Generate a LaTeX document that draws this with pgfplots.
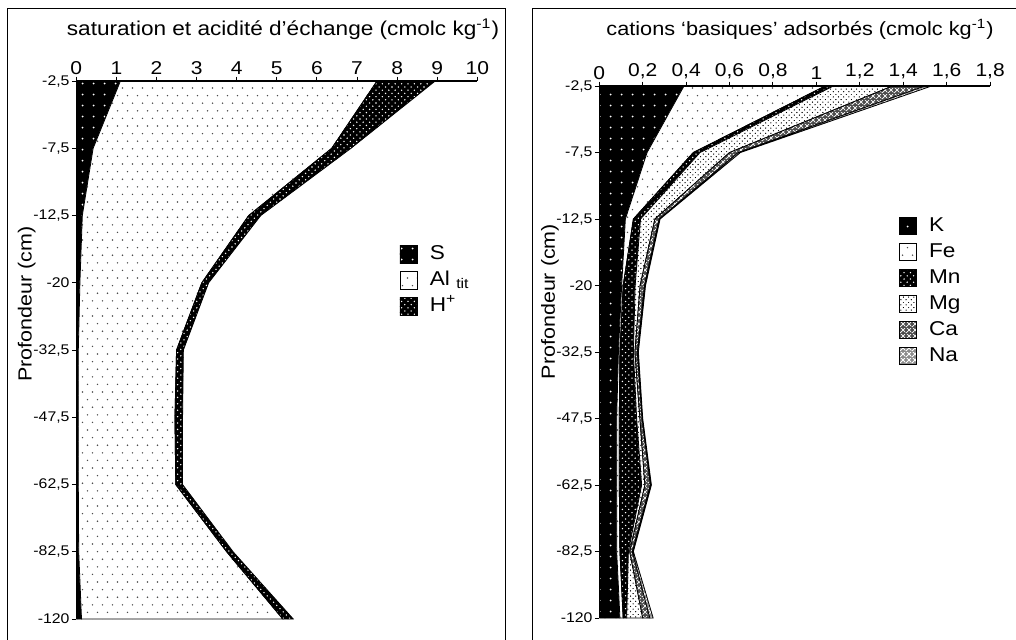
\documentclass[border=0pt]{standalone}
\usepackage{fontspec}
\setmainfont{Liberation Sans}[FakeStretch=1.13]
\usepackage{pgfplots}
\pgfplotsset{compat=1.18}
\usetikzlibrary{patterns}

\pgfdeclarepatterninherentlycolored{KDots}
{\pgfqpoint{-0.3pt}{-0.3pt}}{\pgfqpoint{5.8pt}{5.8pt}}{\pgfqpoint{5.5pt}{5.5pt}}
{\pgfsetfillcolor{black}
 \pgfpathrectangle{\pgfqpoint{-0.3pt}{-0.3pt}}{\pgfqpoint{6.1pt}{6.1pt}}\pgfusepath{fill}
 \pgfsetfillcolor{white}
 \pgfpathcircle{\pgfqpoint{2.75pt}{2.75pt}}{0.5pt}\pgfusepath{fill}}

\pgfdeclarepatterninherentlycolored{AlDots}
{\pgfqpoint{-0.3pt}{-0.3pt}}{\pgfqpoint{5.3pt}{7.9pt}}{\pgfqpoint{5pt}{7.6pt}}
{\pgfsetfillcolor{white}
 \pgfpathrectangle{\pgfqpoint{-0.3pt}{-0.3pt}}{\pgfqpoint{5.6pt}{8.2pt}}\pgfusepath{fill}
 \pgfsetfillcolor{black!70}
 \pgfpathcircle{\pgfqpoint{1.25pt}{1.9pt}}{0.4pt}\pgfusepath{fill}
 \pgfpathcircle{\pgfqpoint{3.75pt}{5.7pt}}{0.4pt}\pgfusepath{fill}}

\pgfdeclarepatterninherentlycolored{HDots}
{\pgfqpoint{-0.3pt}{-0.3pt}}{\pgfqpoint{3.5pt}{3.5pt}}{\pgfqpoint{3.2pt}{3.2pt}}
{\pgfsetfillcolor{black}
 \pgfpathrectangle{\pgfqpoint{-0.3pt}{-0.3pt}}{\pgfqpoint{3.8pt}{3.8pt}}\pgfusepath{fill}
 \pgfsetfillcolor{white}
 \pgfpathcircle{\pgfqpoint{0.8pt}{0.8pt}}{0.38pt}\pgfusepath{fill}
 \pgfpathcircle{\pgfqpoint{2.4pt}{2.4pt}}{0.38pt}\pgfusepath{fill}}

\pgfdeclarepatterninherentlycolored{MgDots}
{\pgfqpoint{-0.3pt}{-0.3pt}}{\pgfqpoint{2.9pt}{2.9pt}}{\pgfqpoint{2.6pt}{2.6pt}}
{\pgfsetfillcolor{white}
 \pgfpathrectangle{\pgfqpoint{-0.3pt}{-0.3pt}}{\pgfqpoint{3.2pt}{3.2pt}}\pgfusepath{fill}
 \pgfsetfillcolor{black}
 \pgfpathcircle{\pgfqpoint{0.65pt}{0.65pt}}{0.34pt}\pgfusepath{fill}
 \pgfpathcircle{\pgfqpoint{1.95pt}{1.95pt}}{0.34pt}\pgfusepath{fill}}

\pgfdeclarepatterninherentlycolored{CaHatch}
{\pgfqpoint{-0.3pt}{-0.3pt}}{\pgfqpoint{3.3pt}{3.3pt}}{\pgfqpoint{3pt}{3pt}}
{\pgfsetfillcolor{black!70}
 \pgfpathrectangle{\pgfqpoint{-0.3pt}{-0.3pt}}{\pgfqpoint{3.6pt}{3.6pt}}\pgfusepath{fill}
 \pgfsetstrokecolor{white}\pgfsetlinewidth{0.35pt}
 \pgfpathmoveto{\pgfqpoint{0pt}{0pt}}\pgfpathlineto{\pgfqpoint{3pt}{3pt}}
 \pgfpathmoveto{\pgfqpoint{0pt}{3pt}}\pgfpathlineto{\pgfqpoint{3pt}{0pt}}
 \pgfusepath{stroke}}

\pgfdeclarepatterninherentlycolored{NaHatch}
{\pgfqpoint{-0.3pt}{-0.3pt}}{\pgfqpoint{3.3pt}{3.3pt}}{\pgfqpoint{3pt}{3pt}}
{\pgfsetfillcolor{black!45}
 \pgfpathrectangle{\pgfqpoint{-0.3pt}{-0.3pt}}{\pgfqpoint{3.6pt}{3.6pt}}\pgfusepath{fill}
 \pgfsetstrokecolor{white}\pgfsetlinewidth{0.45pt}
 \pgfpathmoveto{\pgfqpoint{0pt}{0pt}}\pgfpathlineto{\pgfqpoint{3pt}{3pt}}
 \pgfpathmoveto{\pgfqpoint{0pt}{3pt}}\pgfpathlineto{\pgfqpoint{3pt}{0pt}}
 \pgfusepath{stroke}}

\pgfplotsset{
  panel/.style={
    scale only axis,
    axis x line*=top, axis y line*=left,
    ymin=0, ymax=8, ytick={0,...,8},
    yticklabels={{-120},{-82,5},{-62,5},{-47,5},{-32,5},{-20},{-12,5},{-7,5},{-2,5}},
    yticklabel style={font=\fontsize{7}{8}\selectfont, inner sep=1pt},
    xticklabel style={font=\fontsize{9.3}{11}\selectfont, inner sep=1pt},
    tick align=outside, major tick length=2.2pt,
    tick style={black, line width=0.5pt},
    axis line style={line width=0.6pt},
    axis on top,
    /pgf/number format/assume math mode=true,
    /pgf/number format/use comma,
    legend cell align=left,
    legend image code/.code={\draw[##1, draw=black, line width=0.4pt] (0pt,-4.4pt) rectangle (8.8pt,4.4pt);},
    legend style={draw=none, fill=none, anchor=north west, inner sep=0pt, row sep=0pt,
      font=\fontsize{10}{12}\selectfont,
      /tikz/every odd column/.append style={column sep=4.5pt},
      nodes={text height=7.5pt, text depth=2.5pt, inner sep=1.5pt}},
    every axis plot/.append style={draw=black, line width=0.4pt},
  }
}

\begin{document}
\begin{tikzpicture}
\useasboundingbox (0pt,0pt) rectangle (508pt,-319.5pt);
% frames
\draw[line width=0.5pt] (3.5pt,-321pt) -- (3.5pt,-4pt) -- (252.5pt,-4pt) -- (252.5pt,-321pt);
\draw[line width=0.5pt] (266pt,-321pt) -- (266pt,-4pt) -- (510pt,-4pt);

% depth index: 8=-2.5, 7=-7.5, 6=-12.5, 5=-20, 4=-32.5, 3=-47.5, 2=-62.5, 1=-82.5, 0=-120
\begin{axis}[panel,
  at={(38.15pt,-309.5pt)}, anchor=south west,
  width=200.5pt, height=269pt,
  xmin=0, xmax=10, xtick={0,1,...,10},
  legend style={at={(0.805,0.703)}},
]
% S (cumulative 0 -> S)
\addplot[pattern=KDots] coordinates {
 (0,8) (1.10,8) (0.42,7) (0.15,6) (0.09,5) (0.05,4) (0.05,3) (0.05,2) (0.06,1) (0.13,0) (0,0)} -- cycle;
\addlegendentry{S}
% Al tit (S -> S+Al)
\addplot[pattern=AlDots] coordinates {
 (1.10,8) (7.50,8) (6.37,7) (4.30,6) (3.13,5) (2.50,4) (2.46,3) (2.48,2) (3.75,1) (5.15,0)
 (0.13,0) (0.06,1) (0.05,2) (0.05,3) (0.05,4) (0.09,5) (0.15,6) (0.42,7)} -- cycle;
\addlegendentry{Al \textsubscript{tit}}
% H+ (S+Al -> total)
\addplot[pattern=HDots] coordinates {
 (7.50,8) (8.95,8) (6.85,7) (4.60,6) (3.30,5) (2.67,4) (2.65,3) (2.65,2) (3.91,1) (5.41,0)
 (5.15,0) (3.75,1) (2.48,2) (2.46,3) (2.50,4) (3.13,5) (4.30,6) (6.37,7)} -- cycle;
\addlegendentry{H\textsuperscript{+}}
\end{axis}

\begin{axis}[panel,
  at={(299.65pt,-309pt)}, anchor=south west,
  width=195.4pt, height=266pt,
  xmin=0, xmax=1.8, xtick={0,0.2,0.4,0.6,0.8,1,1.2,1.4,1.6,1.8},
  legend style={at={(0.765,0.762)}},
]
% K
\addplot[pattern=KDots] coordinates {
 (0,8) (0.390,8) (0.220,7) (0.120,6) (0.103,5) (0.088,4) (0.080,3) (0.080,2) (0.080,1) (0.095,0) (0,0)} -- cycle;
\addlegendentry{K}
% Fe
\addplot[pattern=AlDots] coordinates {
 (0.390,8) (1.040,8) (0.433,7) (0.157,6) (0.110,5) (0.095,4) (0.092,3) (0.092,2) (0.095,1) (0.110,0)
 (0.095,0) (0.080,1) (0.080,2) (0.080,3) (0.088,4) (0.103,5) (0.120,6) (0.220,7)} -- cycle;
\addlegendentry{Fe}
% Mn
\addplot[pattern=HDots] coordinates {
 (1.040,8) (1.078,8) (0.464,7) (0.190,6) (0.165,5) (0.157,4) (0.172,3) (0.195,2) (0.134,1) (0.126,0)
 (0.110,0) (0.095,1) (0.092,2) (0.092,3) (0.095,4) (0.110,5) (0.157,6) (0.433,7)} -- cycle;
\addlegendentry{Mn}
% Mg
\addplot[pattern=MgDots] coordinates {
 (1.078,8) (1.350,8) (0.600,7) (0.256,6) (0.188,5) (0.164,4) (0.187,3) (0.210,2) (0.140,1) (0.200,0)
 (0.126,0) (0.134,1) (0.195,2) (0.172,3) (0.157,4) (0.165,5) (0.190,6) (0.464,7)} -- cycle;
\addlegendentry{Mg}
% Ca
\addplot[pattern=CaHatch] coordinates {
 (1.350,8) (1.500,8) (0.640,7) (0.275,6) (0.208,5) (0.175,4) (0.197,3) (0.235,2) (0.152,1) (0.233,0)
 (0.200,0) (0.140,1) (0.210,2) (0.187,3) (0.164,4) (0.188,5) (0.256,6) (0.600,7)} -- cycle;
\addlegendentry{Ca}
% Na
\addplot[pattern=NaHatch] coordinates {
 (1.500,8) (1.530,8) (0.650,7) (0.280,6) (0.213,5) (0.180,4) (0.200,3) (0.240,2) (0.157,1) (0.248,0)
 (0.233,0) (0.152,1) (0.235,2) (0.197,3) (0.175,4) (0.208,5) (0.275,6) (0.640,7)} -- cycle;
\addlegendentry{Na}
\end{axis}

\node[font=\fontsize{10}{12}\selectfont] at (141.5pt,-14.5pt) {saturation et acidité d’échange (cmolc kg\textsuperscript{-1})};
\node[font=\fontsize{9.6}{12}\selectfont] at (400pt,-14.5pt) {cations ‘basiques’ adsorbés (cmolc kg\textsuperscript{-1})};
\node[rotate=90, font=\fontsize{9.5}{11}\selectfont] at (13.35pt,-152pt) {Profondeur (cm)};
\node[rotate=90, font=\fontsize{9.5}{11}\selectfont] at (275pt,-150.75pt) {Profondeur (cm)};
\end{tikzpicture}
\end{document}
